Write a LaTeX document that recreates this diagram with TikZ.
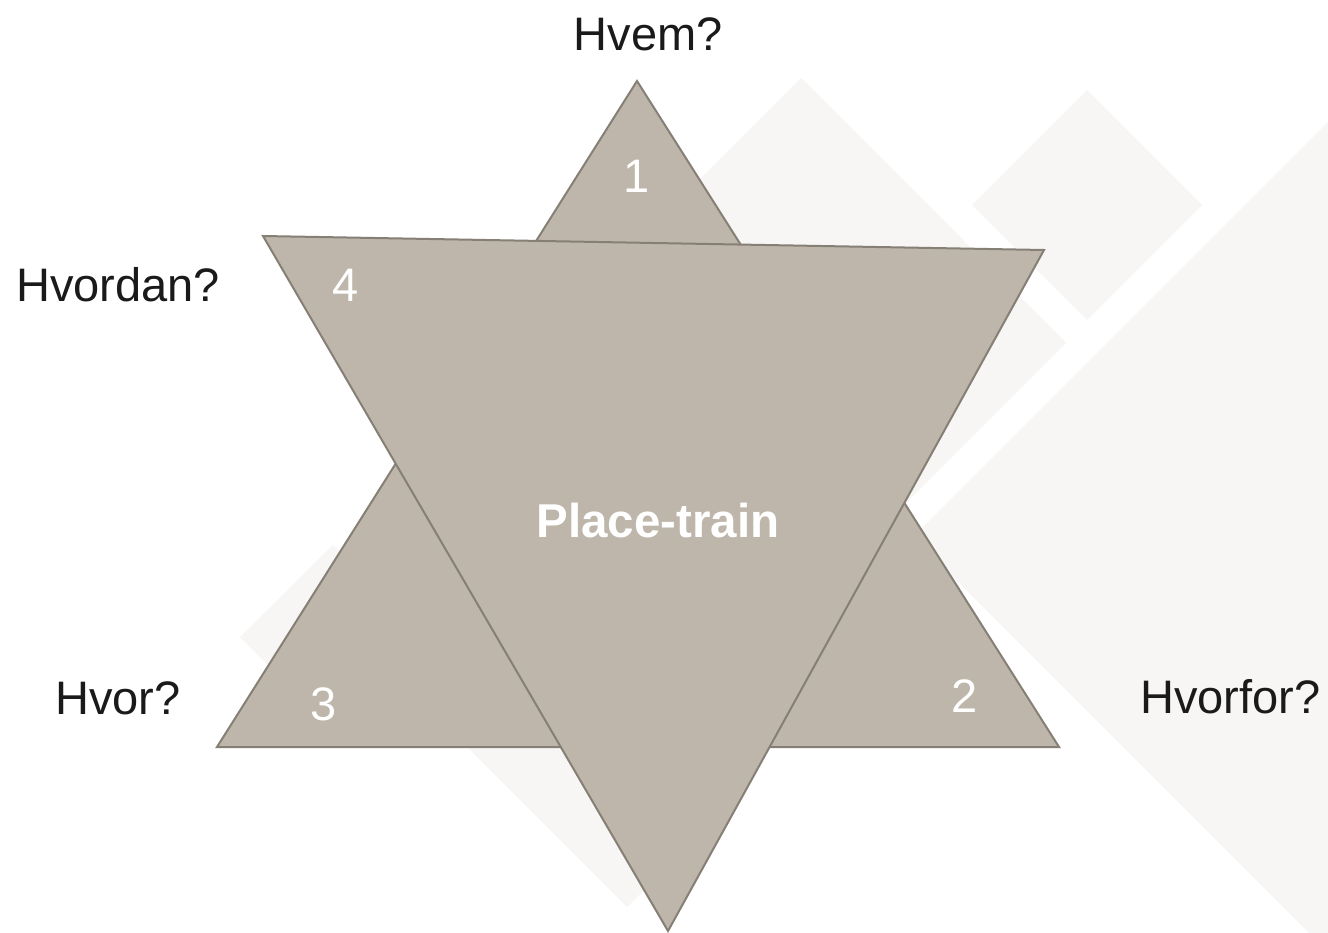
\documentclass[tikz,border=0pt]{standalone}
\usepackage{fontspec}
\setmainfont{Liberation Sans}
\definecolor{bgshape}{HTML}{F7F6F4}
\definecolor{trifill}{HTML}{BEB6AB}
\definecolor{triedge}{HTML}{857F75}
\definecolor{labeltext}{HTML}{1A1A1A}
\begin{document}
\begin{tikzpicture}[x=1pt,y=-1pt,
  tri/.style={fill=trifill, draw=triedge, line width=2pt, line join=miter},
  bgpiece/.style={fill=bgshape},
  lbl/.style={font=\fontsize{47}{56}\selectfont, text=labeltext, inner sep=0pt},
  num/.style={font=\fontsize{47}{56}\selectfont, text=white, inner sep=0pt, anchor=base},
  ttl/.style={font=\fontsize{47.5}{56}\selectfont\bfseries, text=white, inner sep=0pt, anchor=base}]
\fill[white] (0,0) rectangle (1328,933);
\useasboundingbox (0,0) rectangle (1328,933);
\begin{scope}
  \clip (0,0) rectangle (1328,933);
  \fill[bgpiece] (801,78) -- (1066,343) -- (801,608) -- (536,343) -- cycle;
  \fill[bgpiece] (1087,90) -- (1202,205) -- (1087,320) -- (972,205) -- cycle;
  \fill[bgpiece] (913,537) -- (1413,37) -- (1913,537) -- (1413,1037) -- cycle;
  \fill[bgpiece] (333,545) -- (393,605) -- (300,697) -- (240,637) -- cycle;
  \fill[bgpiece] (463,617) -- (690,844) -- (627,907) -- (400,680) -- cycle;
\end{scope}
% upward triangle
\draw[tri] (637,81) -- (1059,747) -- (217,747) -- cycle;
% downward triangle
\draw[tri] (263,236) -- (1044,250) -- (668,931) -- cycle;
% labels
\node[lbl, anchor=base] (hvem) at (648,51) {Hvem?};
\node[lbl, anchor=base west] (hvordan) at (16,302) {Hvordan?};
\node[lbl, anchor=base west] (hvor) at (55,714) {Hvor?};
\node[lbl, anchor=base west] (hvorfor) at (1140,713) {Hvorfor?};
\node[num] (n1) at (637,193) {1};
\node[num] (n4) at (346,302) {4};
\node[num] (n3) at (324,720) {3};
\node[num] (n2) at (965,712) {2};
\node[ttl] (title) at (658,537) {Place-train};
\end{tikzpicture}
\end{document}
